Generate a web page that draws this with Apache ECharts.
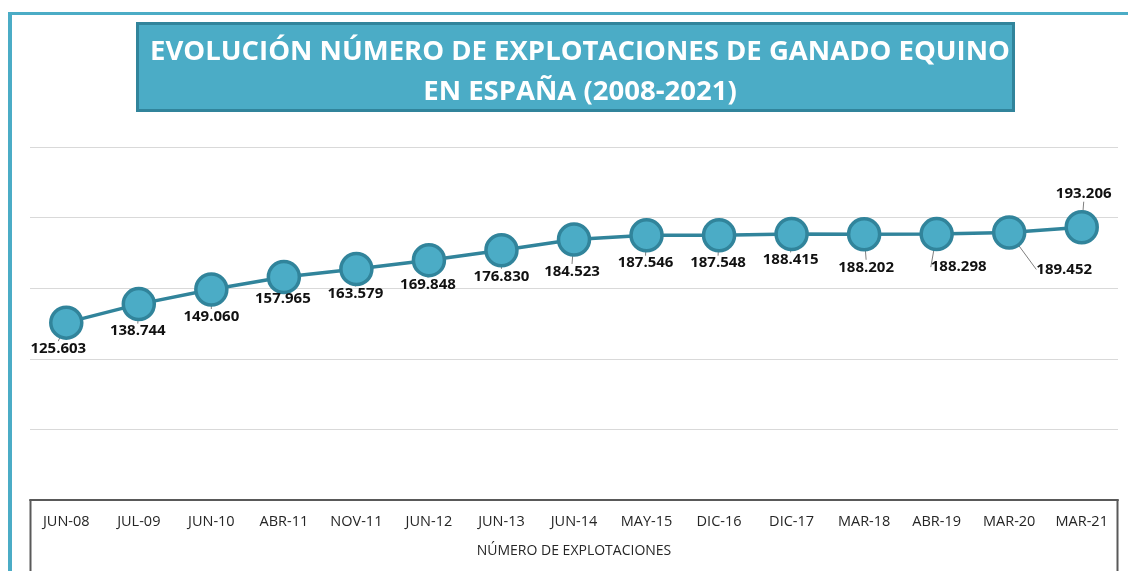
<!DOCTYPE html>
<html>
<head>
<meta charset="utf-8">
<script src="https://cdn.jsdelivr.net/npm/echarts@6/dist/echarts.min.js"></script>
<style>
html,body{margin:0;padding:0;background:#fff;}
#c{width:1128px;height:571px;}
</style>
</head>
<body>
<div id="c"></div>
<script>
var categories = ['JUN-08','JUL-09','JUN-10','ABR-11','NOV-11','JUN-12','JUN-13','JUN-14','MAY-15','DIC-16','DIC-17','MAR-18','ABR-19','MAR-20','MAR-21'];
var explotaciones = [125603,138744,149060,157965,163579,169848,176830,184523,187546,187548,188415,188202,188298,189452,193206];
var seriesName = 'NÚMERO DE EXPLOTACIONES';
var titleText = 'EVOLUCIÓN NÚMERO DE EXPLOTACIONES DE GANADO EQUINO\nEN ESPAÑA (2008-2021)';

// label offsets (presentation only)
var labelOffsets = [[-8,26],[-1,27],[0,27],[-1,22],[-1,25],[-1,25],[0,26],[-2,32],[-1,28],[-1,28],[-1,26],[2,33],[22,33],[55,37],[2,-33]];

function fmt(v){ return String(v).replace(/\B(?=(\d{3})+(?!\d))/g,'.'); }

var chart = echarts.init(document.getElementById('c'));
chart.setOption({
  animation:false,
  backgroundColor:'#ffffff',
  title:{
    text:titleText,
    left:575, top:27, textAlign:'center',
    textStyle:{color:'#ffffff',fontFamily:'Open Sans',fontWeight:'bold',fontSize:27.5,lineHeight:40}
  },
  graphic:[
    {type:'line',shape:{x1:8,y1:13.5,x2:1128,y2:13.5},style:{stroke:'#4BACC6',lineWidth:3},z:-1},
    {type:'line',shape:{x1:10,y1:12,x2:10,y2:571},style:{stroke:'#4BACC6',lineWidth:4},z:-1},
    {type:'rect',shape:{x:137.5,y:23.5,width:876,height:87},style:{fill:'#4BACC6',stroke:'#31849B',lineWidth:3},z:-1},
    {type:'line',shape:{x1:30.5,y1:500,x2:30.5,y2:571},style:{stroke:'#595959',lineWidth:2}},
    {type:'line',shape:{x1:1117.5,y1:500,x2:1117.5,y2:571},style:{stroke:'#595959',lineWidth:2}}
  ],
  grid:{left:30,right:10,top:147,bottom:71,containLabel:false},
  xAxis:{
    type:'category',data:categories,boundaryGap:true,
    axisLine:{show:true,lineStyle:{color:'#595959',width:2}},
    axisTick:{show:false},
    axisLabel:{color:'#262626',fontFamily:'Open Sans',fontSize:14.5,margin:14,interval:0},
    name:seriesName,nameLocation:'middle',nameGap:44,
    nameTextStyle:{color:'#262626',fontFamily:'Open Sans',fontSize:14}
  },
  yAxis:{
    type:'value',min:0,max:250000,interval:50000,
    axisLabel:{show:false},axisLine:{show:false},axisTick:{show:false},
    splitLine:{lineStyle:{color:'#D9D9D9',width:1}}
  },
  series:[{
    name:seriesName,type:'line',data:explotaciones,
    symbol:'circle',symbolSize:31,
    lineStyle:{color:'#31849B',width:3.5},
    itemStyle:{color:'#4BACC6',borderColor:'#31849B',borderWidth:3.5},
    label:{show:true,position:'inside',formatter:function(p){return fmt(p.value);},
      color:'#111',fontFamily:'Open Sans',fontWeight:'bold',fontSize:15},
    labelLine:{show:true,lineStyle:{color:'#7F7F7F',width:1}},
    labelLayout:function(p){var o=labelOffsets[p.dataIndex];return {dx:o[0],dy:o[1]};}
  }]
});
</script>
</body>
</html>
